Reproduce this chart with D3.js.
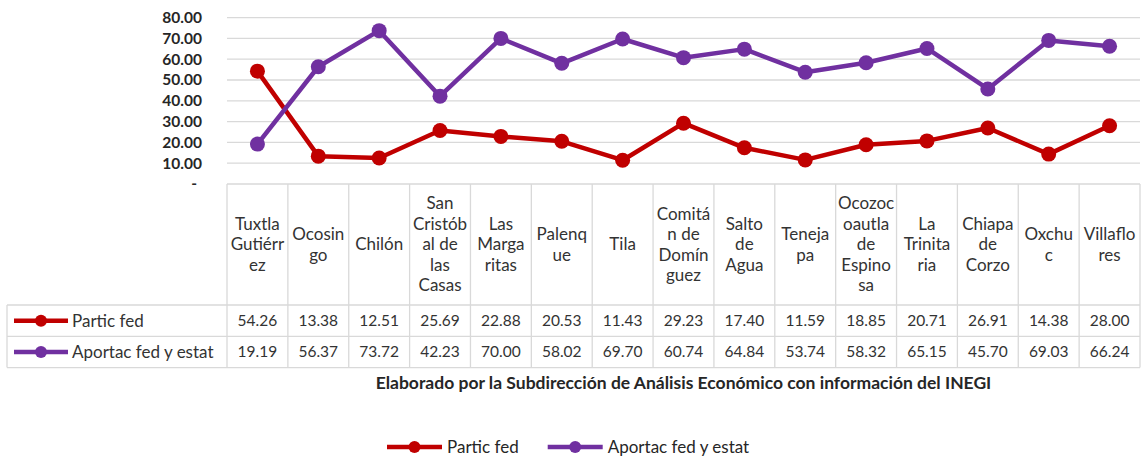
<!DOCTYPE html>
<html>
<head>
<meta charset="utf-8">
<script src="https://cdn.jsdelivr.net/npm/d3@7"></script>
<style>
  body { margin: 0; background: #fff; }
  svg { display: block; font-family: Lato, "Noto Sans", sans-serif; }
</style>
</head>
<body>
<svg id="chart" width="1145" height="458"></svg>
<script>
var categories = ["Tuxtla Gutiérrez", "Ocosingo", "Chilón", "San Cristóbal de las Casas",
    "Las Margaritas", "Palenque", "Tila", "Comitán de Domínguez", "Salto de Agua",
    "Tenejapa", "Ocozocoautla de Espinosa", "La Trinitaria", "Chiapa de Corzo",
    "Oxchuc", "Villaflores"];
// header text as the cells wrap it
var headerLines = [["Tuxtla", "Gutiérr", "ez"], ["Ocosin", "go"], ["Chilón"],
    ["San", "Cristób", "al de", "las", "Casas"], ["Las", "Marga", "ritas"], ["Palenq", "ue"],
    ["Tila"], ["Comitá", "n de", "Domín", "guez"], ["Salto", "de", "Agua"], ["Teneja", "pa"],
    ["Ocozoc", "oautla", "de", "Espino", "sa"], ["La", "Trinita", "ria"], ["Chiapa", "de", "Corzo"],
    ["Oxchu", "c"], ["Villaflo", "res"]];
var particFed = [54.26, 13.38, 12.51, 25.69, 22.88, 20.53, 11.43, 29.23, 17.40,
    11.59, 18.85, 20.71, 26.91, 14.38, 28.00];
var aportacFedEstat = [19.19, 56.37, 73.72, 42.23, 70.00, 58.02, 69.70, 60.74, 64.84,
    53.74, 58.32, 65.15, 45.70, 69.03, 66.24];
var seriesNames = ["Partic fed", "Aportac fed y estat"];
var seriesColors = ["#c00000", "#7030a0"];
var yTicks = [0, 10, 20, 30, 40, 50, 60, 70, 80];
var sourceNote = "Elaborado por la Subdirección de Análisis Económico con información del INEGI";

var series = [particFed, aportacFedEstat];

var svg = d3.select("#chart");
var plotLeft = 227, plotRight = 1140, tableLeft = 7;
var headTop = 184, headBottom = 305, rowH = 31.3;

var x = d3.scaleBand().domain(categories).range([plotLeft, plotRight]);
var y = d3.scaleLinear().domain([0, 80]).range([headTop, 17.6]);

var lineColor = "#d9d9d9";
var textColor = "#333";

// gridlines
svg.append("g").selectAll("line")
    .data(yTicks.filter(function(d) { return d > 0; }))
    .enter().append("line")
    .attr("x1", plotLeft).attr("x2", plotRight)
    .attr("y1", function(d) { return y(d); })
    .attr("y2", function(d) { return y(d); })
    .attr("stroke", lineColor).attr("stroke-width", 1.3);

// y axis
var yAxis = d3.axisLeft(y)
    .tickValues(yTicks)
    .tickSize(0)
    .tickPadding(25)
    .tickFormat(function(d) { return d === 0 ? "-" : d3.format(".2f")(d); });
var yg = svg.append("g").attr("transform", "translate(" + plotLeft + ",0)").call(yAxis);
yg.select(".domain").remove();
yg.selectAll("text")
    .attr("font-family", "Lato, sans-serif")
    .attr("font-size", 15.5)
    .attr("font-weight", "bold")
    .attr("fill", "#262626")
    .attr("dx", function(d) { return d === 0 ? -5 : 0; });

// data table
var table = svg.append("g");
var rowTops = [headBottom, headBottom + rowH, headBottom + 2 * rowH];
table.append("line").attr("x1", plotLeft).attr("x2", plotRight)
    .attr("y1", headTop).attr("y2", headTop);
rowTops.forEach(function(t) {
    table.append("line").attr("x1", tableLeft).attr("x2", plotRight)
        .attr("y1", t).attr("y2", t);
});
table.append("line").attr("x1", tableLeft).attr("x2", tableLeft)
    .attr("y1", headBottom).attr("y2", rowTops[2]);
var colEdges = categories.map(function(c) { return x(c); }).concat([plotRight]);
table.selectAll("line.col").data(colEdges).enter().append("line")
    .attr("class", "col")
    .attr("x1", function(d) { return d; }).attr("x2", function(d) { return d; })
    .attr("y1", headTop).attr("y2", rowTops[2]);
table.selectAll("line").attr("stroke", lineColor).attr("stroke-width", 1.3);

// header text
var lineH = 20.5;
categories.forEach(function(c, ci) {
    var lines = headerLines[ci];
    var cy = (headTop + headBottom) / 2 - (lines.length - 1) * lineH / 2;
    var t = table.append("text")
        .attr("text-anchor", "middle")
        .attr("font-size", 17)
        .attr("fill", textColor);
    lines.forEach(function(l, i) {
        t.append("tspan").attr("x", x(c) + x.bandwidth() / 2)
            .attr("y", cy + i * lineH).attr("dy", "0.35em").text(l);
    });
});

// table values and row keys
series.forEach(function(vals, si) {
    var cy = rowTops[si] + rowH / 2;
    table.selectAll(null).data(vals).enter().append("text")
        .attr("x", function(d, i) { return x(categories[i]) + x.bandwidth() / 2; })
        .attr("y", cy).attr("dy", "0.35em")
        .attr("text-anchor", "middle")
        .attr("font-size", 15.5).attr("fill", textColor)
        .text(function(d) { return d3.format(".2f")(d); });
    var key = table.append("g").attr("transform", "translate(14," + cy + ")");
    key.append("line").attr("x1", 0).attr("x2", 54)
        .attr("stroke", seriesColors[si]).attr("stroke-width", 4.5);
    key.append("circle").attr("cx", 27).attr("r", 6).attr("fill", seriesColors[si]);
    key.append("text").attr("x", 58).attr("dy", "0.35em")
        .attr("font-size", 17).attr("fill", textColor).text(seriesNames[si]);
});

// lines
var line = d3.line()
    .x(function(d, i) { return x(categories[i]) + x.bandwidth() / 2; })
    .y(function(d) { return y(d); });
series.forEach(function(vals, si) {
    var g = svg.append("g");
    g.append("path").datum(vals)
        .attr("d", line).attr("fill", "none")
        .attr("stroke", seriesColors[si]).attr("stroke-width", 4.5)
        .attr("stroke-linejoin", "round");
    g.selectAll("circle").data(vals).enter().append("circle")
        .attr("cx", function(d, i) { return x(categories[i]) + x.bandwidth() / 2; })
        .attr("cy", function(d) { return y(d); })
        .attr("r", 7.5).attr("fill", seriesColors[si]);
});

// source note
svg.append("text")
    .attr("x", (plotLeft + plotRight) / 2).attr("y", 383).attr("dy", "0.35em")
    .attr("text-anchor", "middle")
    .attr("font-size", 17.5).attr("font-weight", "bold").attr("fill", "#262626")
    .text(sourceNote);

// legend
var legend = svg.append("g").attr("transform", "translate(387,447)");
var lx = 0;
seriesNames.forEach(function(name, si) {
    var item = legend.append("g").attr("transform", "translate(" + lx + ",0)");
    item.append("line").attr("x1", 0).attr("x2", 55)
        .attr("stroke", seriesColors[si]).attr("stroke-width", 4.5);
    item.append("circle").attr("cx", 27.5).attr("r", 6).attr("fill", seriesColors[si]);
    var t = item.append("text").attr("x", 60).attr("dy", "0.35em")
        .attr("font-size", 17).attr("fill", "#262626").text(name);
    lx += 60 + t.node().getComputedTextLength() + 29;
});
</script>
</body>
</html>
